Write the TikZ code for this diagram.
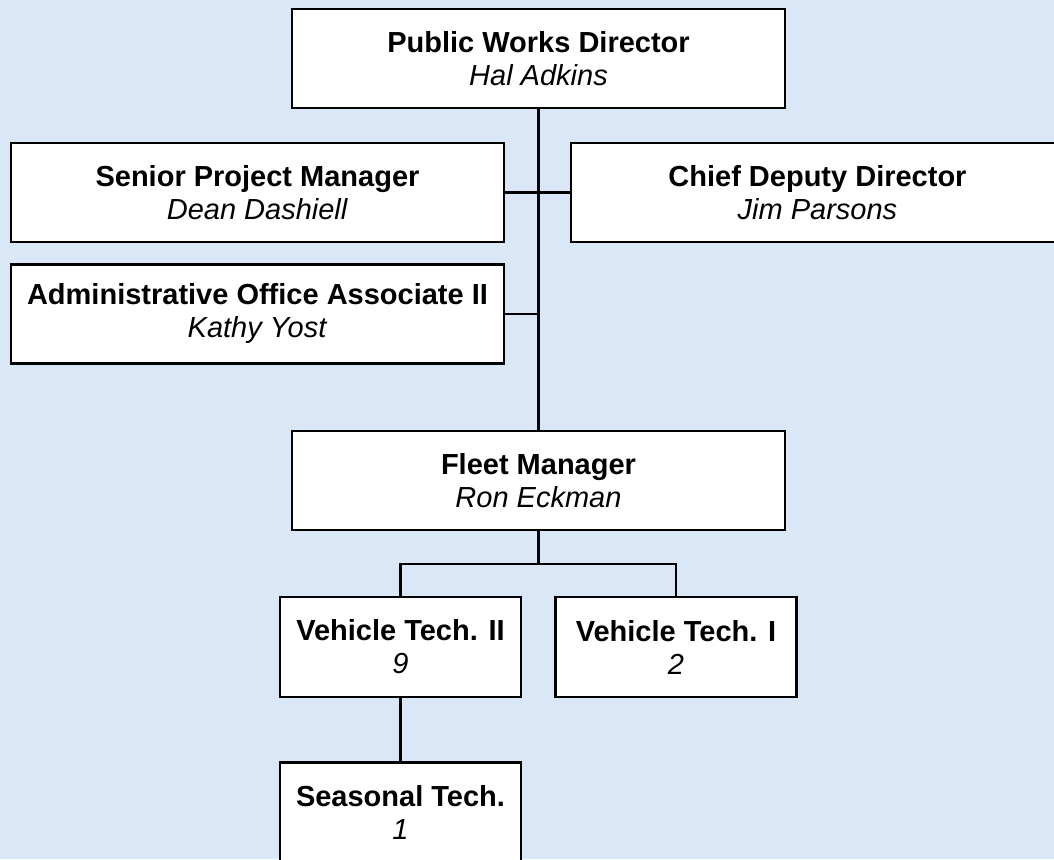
\documentclass[tikz,border=0pt]{standalone}
\usepackage{fontspec}
\setmainfont{Liberation Sans}
\usepackage{tikz}
\usetikzlibrary{shapes,arrows}
\definecolor{paper}{RGB}{218,231,247}
\tikzstyle{block} = [rectangle, draw, fill=white, line width=2.2pt, align=center,
    minimum width=493pt, minimum height=99pt, inner sep=0pt,
    font=\fontsize{29}{33}\selectfont]
\tikzstyle{smallblock} = [block, minimum width=241pt, minimum height=100pt]
\tikzstyle{line} = [draw, line width=2.2pt]

\begin{document}
\begin{tikzpicture}[x=1pt, y=1pt]
    % Frame and background
    \clip (0,0) rectangle (1054,859);
    \fill [paper] (0,0) rectangle (1054,859);
    % Place nodes
    \node [block] (pwd) at (538.5,800.5) {\textbf{Public Works Director}\\ \textit{Hal Adkins}};
    \node [block] (spm) at (257.5,666.5) {\textbf{Senior Project Manager}\\ \textit{Dean Dashiell}};
    \node [block] (cdd) at (817.5,666.5) {\textbf{Chief Deputy Director}\\ \textit{Jim Parsons}};
    \node [block] (aoa) at (257.5,545) {\textbf{Administrative Office Associate II}\\ \textit{Kathy Yost}};
    \node [block] (fm) at (538.5,378.5) {\textbf{Fleet Manager}\\ \textit{Ron Eckman}};
    \node [smallblock] (vt2) at (400.5,212) {\textbf{Vehicle Tech. II}\\ \textit{9}};
    \node [smallblock] (vt1) at (676,212) {\textbf{Vehicle Tech. I}\\ \textit{2}};
    \node [smallblock] (st) at (400.5,46.5) {\textbf{Seasonal Tech.}\\ \textit{1}};
    \coordinate (bus) at (538.5,295);

  \path [line] (pwd) -- (fm);
  \path [line] (spm) -- (cdd);
  \path [line] (aoa.east) -- (aoa.east -| pwd.south);
  \path [line] (fm) -- (bus);
  \path [line] (vt2.north) |- (bus) -| (vt1.north);
  \path [line] (vt2) -- (st);
\end{tikzpicture}
\end{document}
